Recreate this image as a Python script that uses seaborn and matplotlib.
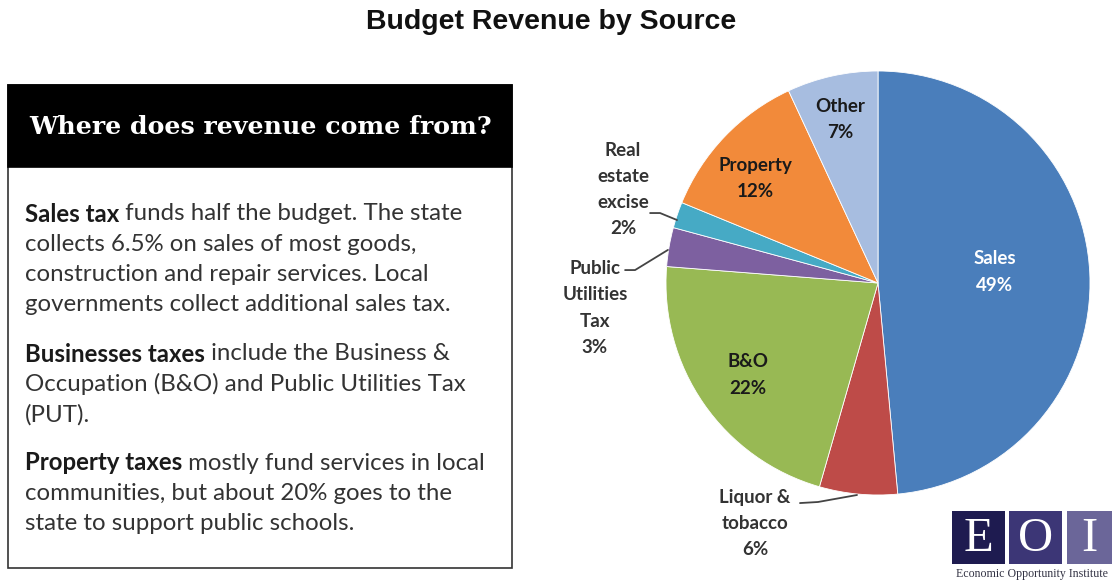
import matplotlib
matplotlib.use("Agg")
import matplotlib.pyplot as plt
from matplotlib.patches import Rectangle
import seaborn as sns

# ---- data ----
categories = ["Sales", "Liquor &\ntobacco", "B&O", "Public\nUtilities\nTax",
              "Real\nestate\nexcise", "Property", "Other"]
shares = [49, 6, 22, 3, 2, 12, 7]
colors = ["#4A7EBB", "#BE4B48", "#98B954", "#7D60A0", "#46AAC5", "#F28A3A", "#A7BDE0"]

title = "Budget Revenue by Source"
box_header = "Where does revenue come from?"
paragraphs = [
    ("Sales tax", [" funds half the budget. The state",
                   "collects 6.5% on sales of most goods,",
                   "construction and repair services. Local",
                   "governments collect additional sales tax."]),
    ("Businesses taxes", [" include the Business &",
                          "Occupation (B&O) and Public Utilities Tax",
                          "(PUT)."]),
    ("Property taxes", [" mostly fund services in local",
                        "communities, but about 20% goes to the",
                        "state to support public schools."]),
]

sns.set_theme(style="white")
plt.rcParams["font.family"] = ["Lato", "DejaVu Sans"]

W, H = 1119, 581
fig = plt.figure(figsize=(W / 100, H / 100), dpi=100)
fig.patch.set_facecolor("white")

# overlay axes in pixel coordinates
bg = fig.add_axes([0, 0, 1, 1])
bg.set_xlim(0, W)
bg.set_ylim(H, 0)
bg.axis("off")

# title
bg.text(551, 22, title, ha="center", va="center", fontsize=20.5, fontweight="bold",
        family=["Liberation Sans", "DejaVu Sans"], color="#111111")

# text box
bg.add_patch(Rectangle((8, 85), 504, 483, facecolor="white", edgecolor="#333333", lw=1.2))
bg.add_patch(Rectangle((8, 85), 504, 82, facecolor="black", edgecolor="black", lw=1.2))
bg.text(261, 127, box_header, ha="center", va="center", color="white", fontsize=18.2,
        fontweight="bold", family=["DejaVu Serif"])

line_h = 30.2
y_starts = [214, 354, 463]
for (bold, rest), y0 in zip(paragraphs, y_starts):
    t = bg.text(25, y0, bold, ha="left", va="center", fontsize=17.3, fontweight="bold",
                color="#1a1a1a")
    bg.annotate(rest[0], xy=(1, 0.5), xycoords=t, ha="left", va="center",
                fontsize=17.3, color="#333333")
    for i, ln in enumerate(rest[1:], start=1):
        bg.text(25, y0 + i * line_h, ln, ha="left", va="center", fontsize=17.3,
                color="#333333")

# logo
logo_cols = ["#1E1B50", "#3C3676", "#6B6699"]
logo_x = [952, 1009, 1067]
logo_w = [53, 53, 45]
for lx, lw_, c, letter in zip(logo_x, logo_w, logo_cols, ["E", "O", "I"]):
    bg.add_patch(Rectangle((lx, 511), lw_, 53, facecolor=c, edgecolor="none"))
    bg.text(lx + lw_ / 2, 539, letter, ha="center", va="center", color="white",
            fontsize=35, family=["Liberation Serif", "DejaVu Serif"])
bg.text(1032, 574, "Economic Opportunity Institute", ha="center", va="center",
        fontsize=8.6, color="#333344", family=["Liberation Serif", "DejaVu Serif"])

# pie
cx, cy, r = 878, 283, 212
ax = fig.add_axes([(cx - r) / W, (H - cy - r) / H, 2 * r / W, 2 * r / H])
wedges, _ = ax.pie(shares, colors=colors, startangle=90, counterclock=False,
                   wedgeprops=dict(edgecolor="white", linewidth=0.6))
ax.set_xlim(-1, 1)
ax.set_ylim(-1, 1)
ax.axis("off")

lab_font = dict(fontsize=13.5, fontweight="bold", ha="center", va="center",
                linespacing=1.65)
inside = {0: (0.552, 0.052, "white"), 2: (-0.613, -0.434, "#1a1a1a"),
          5: (-0.58, 0.495, "#1a1a1a"), 6: (-0.179, 0.77, "#1a1a1a")}
for i, (x, y, c) in inside.items():
    ax.text(x, y, f"{categories[i]}\n{shares[i]}%", color=c, **lab_font)

outside = {1: ((-0.58, -1.135), [(-0.368, -1.038), (-0.283, -1.033), (-0.099, -1.0)]),
           3: ((-1.335, -0.118), [(-1.193, 0.061), (-1.146, 0.061), (-0.991, 0.156)]),
           4: ((-1.203, 0.44), [(-1.075, 0.33), (-1.028, 0.33), (-0.948, 0.297)])}
for i, (tpos, pts) in outside.items():
    ax.text(tpos[0], tpos[1], f"{categories[i]}\n{shares[i]}%", color="#333333",
            clip_on=False, **lab_font)
    ax.plot([p[0] for p in pts], [p[1] for p in pts], color="#444444", lw=1.3,
            clip_on=False)

fig.savefig("out.png", dpi=100)
